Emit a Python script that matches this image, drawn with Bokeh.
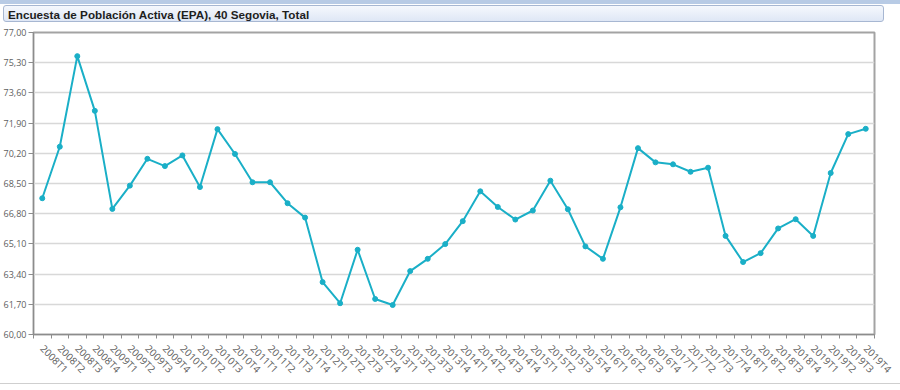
import math
from bokeh.plotting import figure
from bokeh.models import (Div, FixedTicker, CustomJSTickFormatter, Range1d,
                          ColumnDataSource)
from bokeh.layouts import column
from bokeh.embed import file_html
from bokeh.resources import INLINE

title_text = "Encuesta de Población Activa (EPA), 40 Segovia, Total"

quarters = [f"{y}T{q}" for y in range(2008, 2020) for q in range(1, 5)]

values = [67.67, 70.57, 75.67, 72.59,
          67.07, 68.38, 69.89, 69.48,
          70.08, 68.30, 71.56, 70.16,
          68.57, 68.57, 67.39, 66.58,
          62.95, 61.76, 64.77, 62.00,
          61.66, 63.57, 64.26, 65.09,
          66.38, 68.06, 67.18, 66.47,
          66.98, 68.66, 67.05, 64.96,
          64.26, 67.16, 70.49, 69.69,
          69.58, 69.16, 69.39, 65.55,
          64.08, 64.58, 65.97, 66.49,
          65.55, 69.09, 71.28, 71.58]

y_ticks = [60.0, 61.7, 63.4, 65.1, 66.8, 68.5, 70.2, 71.9, 73.6, 75.3, 77.0]

xs = [i + 0.5 for i in range(len(quarters))]
src = ColumnDataSource(dict(x=xs, y=values, q=quarters))

header = Div(
    text=(
        '<div style="position:absolute; left:3px; top:5px; width:881px; height:17px;'
        ' border:1px solid #a7b7d2; border-radius:3px;'
        ' background:linear-gradient(#f5f8fd, #dfe7f5);'
        " font-family:'Liberation Sans', Arial, sans-serif; font-weight:bold;"
        ' font-size:11.7px; color:#1e1e1e; line-height:17px; padding-left:4px;">'
        + title_text + '</div>'
    ),
    width=900, height=26,
    styles={"background": "linear-gradient(#b8cbe5 0px, #b8cbe5 4px, #ffffff 4px)",
            "margin": "0", "padding": "0"},
)

p = figure(width=900, height=357, output_backend="svg", toolbar_location=None,
           x_range=Range1d(0, len(quarters)), y_range=Range1d(60, 77),
           min_border_left=33, min_border_right=26, min_border_top=6,
           min_border_bottom=49)
p.background_fill_color = "white"
p.border_fill_color = "white"
p.outline_line_color = "#a3a3a3"
p.outline_line_width = 2

# y axis
p.yaxis.ticker = FixedTicker(ticks=y_ticks)
p.yaxis.formatter = CustomJSTickFormatter(
    code="return tick.toFixed(2).replace('.', ',');")
p.yaxis.major_label_text_font = "Open Sans"
p.yaxis.major_label_text_font_size = "9px"
p.yaxis.major_label_text_color = "#606060"
p.yaxis.axis_line_color = "#8c8c8c"
p.yaxis.major_tick_line_color = "#8c8c8c"
p.yaxis.major_tick_in = 0
p.yaxis.major_tick_out = 5
p.yaxis.minor_tick_line_color = None
p.yaxis.major_label_standoff = 2

# x axis: labels at category centres, tick marks at boundaries
p.xaxis.ticker = FixedTicker(ticks=xs, minor_ticks=list(range(len(quarters) + 1)))
p.xaxis.major_label_overrides = {x: q for x, q in zip(xs, quarters)}
p.xaxis.major_label_orientation = -math.pi / 4
p.xaxis.major_label_text_font = "Open Sans"
p.xaxis.major_label_text_font_size = "10px"
p.xaxis.major_label_text_color = "#606060"
p.xaxis.major_tick_line_color = None
p.xaxis.minor_tick_line_color = "#8c8c8c"
p.xaxis.minor_tick_in = 0
p.xaxis.minor_tick_out = 4
p.xaxis.axis_line_color = "#8c8c8c"
p.xaxis.major_label_standoff = 6

p.xgrid.grid_line_color = None
p.ygrid.grid_line_color = "#d8d8d8"
p.ygrid.grid_line_width = 1.5

line_color = "#1aafc7"
p.line("x", "y", source=src, line_color=line_color, line_width=2)
p.scatter("x", "y", source=src, size=5, fill_color=line_color,
          line_color=line_color)

footer = Div(text="", width=900, height=7,
             styles={"border-top": "1px solid #cfcfcf", "margin": "0",
                     "padding": "0", "box-sizing": "border-box"})

layout = column(header, p, footer, spacing=0)

open("out.html", "w").write(file_html(layout, INLINE))
